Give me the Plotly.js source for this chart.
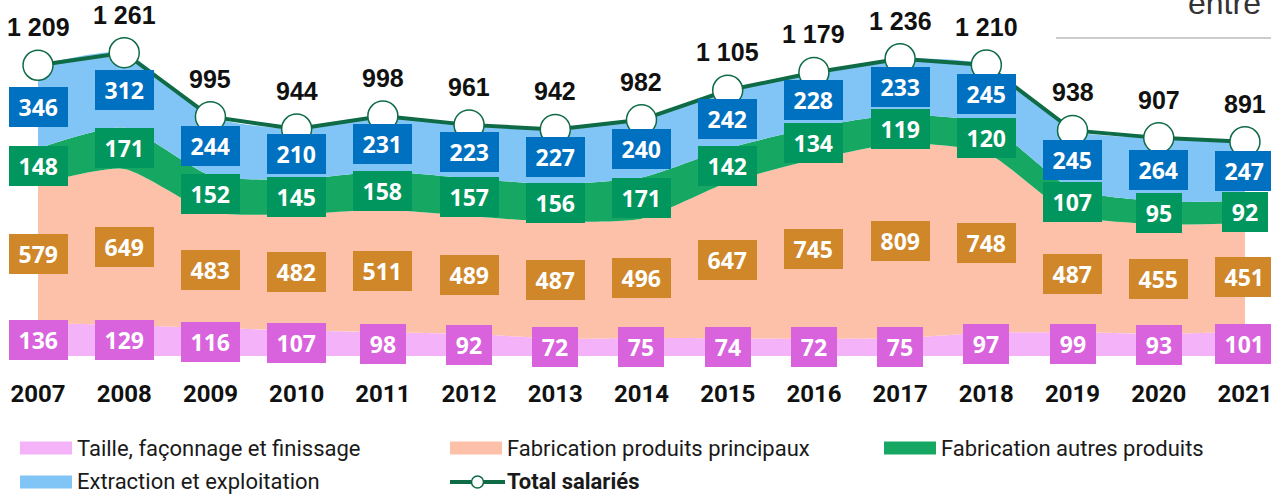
<!DOCTYPE html>
<html><head><meta charset="utf-8">
<script src="https://cdn.plot.ly/plotly-3.0.1.min.js"></script>
<style>html,body{margin:0;padding:0;background:#fff;overflow:hidden}#chart{width:1271px;height:496px}</style>
</head><body><div id="chart"></div>
<script>
// ---- data ----
const years = [2007,2008,2009,2010,2011,2012,2013,2014,2015,2016,2017,2018,2019,2020,2021];
const taille = [136,129,116,107,98,92,72,75,74,72,75,97,99,93,101];
const principaux = [579,649,483,482,511,489,487,496,647,745,809,748,487,455,451];
const autres = [148,171,152,145,158,157,156,171,142,134,119,120,107,95,92];
const extraction = [346,312,244,210,231,223,227,240,242,228,233,245,245,264,247];
const total = [1209,1261,995,944,998,961,942,982,1105,1179,1236,1210,938,907,891];
const seriesNames = ["Taille, façonnage et finissage","Fabrication produits principaux","Fabrication autres produits","Extraction et exploitation","Total salariés"];

// ---- styles ----
const W = 1271, H = 496, MB = 140, PH = H - MB;
const areaCol = ["#F4B3F8","#FDC0A9","#16A862","#80C5F6"];
const boxCol = ["#D962DD","#D0872A","#00965E","#0070C0"];
const lineCol = "#0E6B45";
const stacks = [taille, principaux, autres, extraction];

const traces = stacks.map((s,i)=>({
  x: years, y: s, type:'scatter', mode:'lines', stackgroup:'one',
  name: seriesNames[i], fillcolor: areaCol[i],
  line:{width:0, color: areaCol[i], shape:'spline', smoothing:0.6},
  hoverinfo:'skip', showlegend:false
}));
traces.push({
  x: years, y: total, type:'scatter', mode:'lines+markers', name: seriesNames[4],
  line:{color:lineCol, width:4},
  marker:{size:30, color:'#fff', line:{color:lineCol, width:1.5}},
  showlegend:false, cliponaxis:false
});

const fmt = n => n >= 1000 ? Math.floor(n/1000) + " " + String(n%1000).padStart(3,"0") : String(n);

const annotations = [];
const cum = years.map(()=>0);
stacks.forEach((s,i)=>{
  s.forEach((v,j)=>{
    const mid = cum[j] + v/2;
    cum[j] += v;
    const t = String(v);
    annotations.push({
      x: years[j], y: mid, xref:'x', yref:'y', text: t, showarrow:false,
      bgcolor: boxCol[i], borderpad:4, borderwidth:0,
      width: t.length*12.5 + 13, height: 32,
      font:{family:'"Open Sans", sans-serif', size:23, color:'#fff', weight:700}
    });
  });
});
total.forEach((v,j)=>{
  annotations.push({
    x: years[j], y: v, xref:'x', yref:'y', text: fmt(v), showarrow:false,
    yshift: 38,
    font:{family:'"Liberation Sans", Arial, sans-serif', size:25, color:'#111', weight:700}
  });
});

// helpers for pixel placement of legend / decorations
const px = x => x / W;
const py = y => (PH - y) / PH;

annotations.push({
  x: px(1263), y: py(3), xref:'paper', yref:'paper', xanchor:'right', yanchor:'middle',
  text:'entre', showarrow:false,
  font:{family:'"Liberation Sans", Arial, sans-serif', size:32, color:'#333'}
});

const shapes = [
  {type:'line', xref:'paper', yref:'paper', x0:px(1056), x1:px(1271), y0:py(38), y1:py(38), line:{color:'#BBBBBB', width:1.5}}
];

const legendItems = [
  {x:20, y:448, kind:'box', col:areaCol[0], label:seriesNames[0]},
  {x:450, y:448, kind:'box', col:areaCol[1], label:seriesNames[1]},
  {x:884, y:448, kind:'box', col:areaCol[2], label:seriesNames[2]},
  {x:20, y:482, kind:'box', col:areaCol[3], label:seriesNames[3]},
  {x:450, y:482, kind:'line', col:lineCol, label:seriesNames[4]}
];
legendItems.forEach(it=>{
  if (it.kind === 'box') {
    shapes.push({type:'rect', xref:'paper', yref:'paper', x0:px(it.x), x1:px(it.x+52), y0:py(it.y-6.5), y1:py(it.y+6.5), fillcolor:it.col, line:{width:0}});
  } else {
    shapes.push({type:'line', xref:'paper', yref:'paper', x0:px(it.x), x1:px(it.x+55), y0:py(it.y), y1:py(it.y), line:{color:it.col, width:4}});
    shapes.push({type:'circle', xref:'paper', yref:'paper', x0:px(it.x+21.5), x1:px(it.x+33.5), y0:py(it.y-6), y1:py(it.y+6), fillcolor:'#fff', line:{color:it.col, width:1.5}});
  }
  annotations.push({
    x: px(it.x + 55), y: py(it.y), xref:'paper', yref:'paper', xanchor:'left', yanchor:'middle',
    text: it.label, showarrow:false,
    font:{family:'Roboto, sans-serif', size:22, color:'#1a1a1a', weight: it.kind==='line' ? 700 : 400}
  });
});

const layout = {
  width: W, height: H,
  margin:{l:0, r:0, t:0, b:MB, pad:0},
  paper_bgcolor:'#fff', plot_bgcolor:'#fff',
  showlegend:false,
  xaxis:{range:[2006.559, 2021.302], tickvals: years, ticktext: years.map(String),
    showgrid:false, zeroline:false, showline:false, ticks:'', ticklabelstandoff:21,
    ticklabeloverflow:'allow',
    tickfont:{family:'Roboto, sans-serif', size:24, color:'#111', weight:700}, fixedrange:true},
  yaxis:{range:[0, PH/0.2405], visible:false, showgrid:false, zeroline:false, fixedrange:true},
  annotations, shapes
};
Plotly.newPlot('chart', traces, layout, {staticPlot:true, displayModeBar:false});
</script>
</body></html>
